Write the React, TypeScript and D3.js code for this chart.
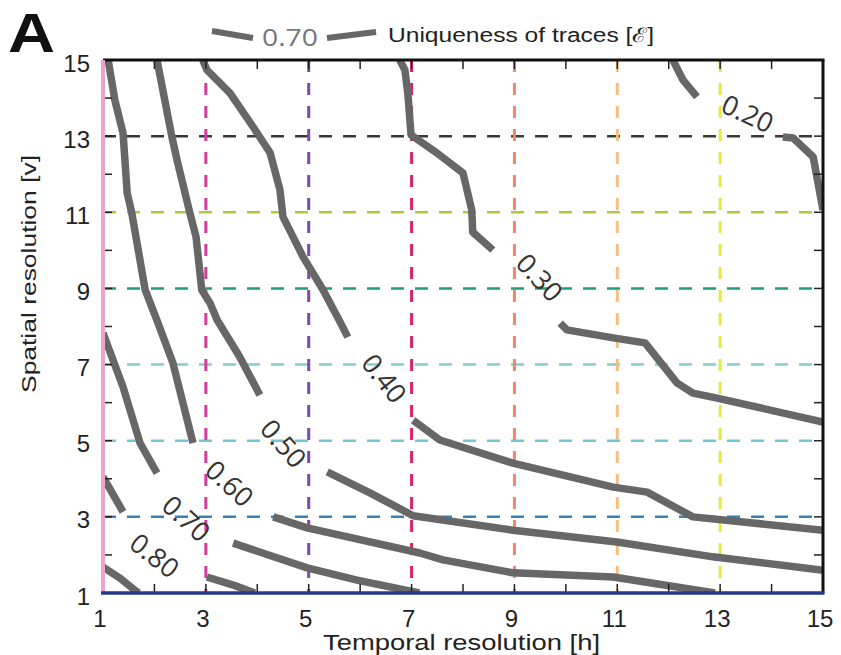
import React from 'react';
import * as d3 from 'd3';

type P = [number, number];

// ---- axes ----
const xTickValues = [1, 3, 5, 7, 9, 11, 13, 15];
const yTickValues = [1, 3, 5, 7, 9, 11, 13, 15];
const minorTickValues = d3.range(1, 16);

// ---- reference lines (dashed) ----
const verticalRefValues = [3, 5, 7, 9, 11, 13];
const horizontalRefValues = [3, 5, 7, 9, 11, 13];

// ---- contour levels, labels ----
const contourLevels = [0.9, 0.8, 0.7, 0.6, 0.5, 0.4, 0.3, 0.2];
const contourLabels = ['', '0.80', '0.70', '0.60', '0.50', '0.40', '0.30', '0.20'];

// contour segments (temporal, spatial) – each level broken where its label sits
const c090: P[][] = [[[1, 1.68], [1.33, 1.39], [1.66, 1.03], [1.7, 1]]];
const c080: P[][] = [
  [[1, 4.05], [1.39, 3.13]],
  [[3.02, 1.42], [3.55, 1.2], [3.95, 1]],
];
const c070: P[][] = [
  [[1, 7.83], [1.39, 6.41], [1.72, 4.94], [2.05, 4.15]],
  [[3.53, 2.31], [4.97, 1.66], [5.94, 1.34], [7.15, 1]],
];
const c060: P[][] = [
  [[1.1, 15], [1.23, 13.95], [1.39, 13.08], [1.47, 11.51], [1.56, 10.98], [1.82, 8.96], [2.07, 8.09], [2.36, 7.04], [2.75, 4.94]],
  [[4.31, 3.0], [4.97, 2.71], [7.16, 2.05], [7.61, 1.87], [8.97, 1.53], [10.92, 1.42], [12.9, 1.0]],
];
const c050: P[][] = [
  [[2.05, 15], [2.34, 12.98], [2.44, 12.37], [2.69, 10.98], [2.81, 10.35], [2.92, 8.96], [3.08, 8.62], [3.22, 8.17], [3.66, 7.2], [4.05, 6.2]],
  [[5.36, 4.18], [6.19, 3.63], [7.03, 3.03], [8.97, 2.65], [10.99, 2.34], [12.86, 1.95], [15, 1.6]],
];
const c040: P[][] = [
  [[2.94, 15], [3.02, 14.74], [3.47, 14.13], [3.92, 13.24], [4.25, 12.56], [4.44, 11.59], [4.5, 10.88], [4.89, 9.83], [5.28, 8.96], [5.61, 8.12], [5.76, 7.72]],
  [[7.03, 5.54], [7.55, 5.02], [8.97, 4.41], [10.92, 3.78], [11.58, 3.65], [12.47, 3.0], [15, 2.65]],
];
const c030: P[][] = [
  [[6.77, 15], [6.87, 14.74], [6.93, 14.08], [6.99, 13.03], [7.49, 12.56], [8.0, 12.03], [8.17, 11.06], [8.19, 10.48], [8.58, 10.01]],
  [[9.89, 8.09], [10.02, 7.91], [10.92, 7.7], [11.54, 7.57], [12.16, 6.52], [12.47, 6.25], [12.94, 6.12], [15, 5.49]],
];
const c020: P[][] = [
  [[12.08, 15], [12.28, 14.47], [12.55, 14.03]],
  [[14.22, 12.98], [14.42, 12.95], [14.81, 12.45], [15, 11.06]],
];
const contourSegments = [c090, c080, c070, c060, c050, c040, c030, c020];

// where each inline label sits (temporal, spatial)
const labelPoints: (P | null)[] = [
  null, [2.01, 2.0], [2.63, 2.97], [3.47, 3.89], [4.52, 4.94], [6.48, 6.65], [9.5, 9.3], [13.54, 13.61],
];

const legendLevel = '0.70';
const legendTitle = 'Uniqueness of traces [ℰ]';
const xTitle = 'Temporal resolution [h]';
const yTitle = 'Spatial resolution [v]';
const panelLetter = 'A';

// ---- styles ----
const vRefColors = ['#d63a9c', '#7b4aa8', '#d8246a', '#f2866a', '#f5bf82', '#e4ea3c'];
const hRefColors = ['#3a7fb5', '#72c6d8', '#86ccd4', '#1f9f7e', '#b4c63e', '#3a3a30'];
const contourColor = '#676767';
const FONT = '"Liberation Sans", Arial, Helvetica, sans-serif';
const LABEL_FONT = '"Open Sans", "DejaVu Sans", sans-serif';

const W = 841;
const H = 655;
const L = 103, R = 823, T = 60, B = 593;

export default function App() {
  const x = d3.scaleLinear().domain([1, 15]).range([L, R]);
  const y = d3.scaleLinear().domain([1, 15]).range([B, T]);
  const line = d3.line<P>().x((d) => x(d[0])).y((d) => y(d[1]));

  return (
    <svg width={W} height={H} style={{ position: 'absolute', left: 0, top: 0, background: '#fff' }}>
      <defs>
        <clipPath id="plotClip">
          <rect x={L} y={T} width={R - L} height={B - T} />
        </clipPath>
      </defs>
      <rect x={0} y={0} width={W} height={H} fill="#fff" />

      {/* dashed reference lines */}
      <g clipPath="url(#plotClip)">
        {horizontalRefValues.map((v, i) => (
          <line key={'h' + v} x1={x(1)} x2={x(15)} y1={y(v)} y2={y(v)}
            stroke={hRefColors[i]} strokeWidth={2.5} strokeDasharray="13 11" />
        ))}
        {verticalRefValues.map((v, i) => (
          <line key={'v' + v} x1={x(v)} x2={x(v)} y1={y(15)} y2={y(1)}
            stroke={vRefColors[i]} strokeWidth={3} strokeDasharray="12 11" />
        ))}
      </g>

      {/* contours */}
      <g clipPath="url(#plotClip)">
        {contourSegments.map((segs, ci) =>
          segs.map((s, si) => (
            <path key={ci + '-' + si} d={line(s) || ''} fill="none" stroke={contourColor}
              strokeWidth={7.5} strokeLinejoin="round" strokeLinecap="butt" />
          ))
        )}
      </g>

      {/* contour labels */}
      {contourSegments.map((segs, ci) => {
        const lp = labelPoints[ci];
        if (!lp || segs.length < 2) return null;
        const a = segs[0][segs[0].length - 1];
        const b = segs[1][0];
        const ang = (Math.atan2(y(b[1]) - y(a[1]), x(b[0]) - x(a[0])) * 180) / Math.PI;
        return (
          <text key={'lab' + ci} transform={`translate(${x(lp[0])},${y(lp[1])}) rotate(${ang})`}
            textAnchor="middle" dominantBaseline="central" fontFamily={LABEL_FONT}
            fontSize={27} fill="#333">
            {contourLabels[ci]}
          </text>
        );
      })}

      {/* ticks */}
      <g stroke="#222" strokeWidth={1.5}>
        {minorTickValues.map((v) => (
          <g key={'t' + v}>
            <line x1={x(v)} x2={x(v)} y1={B} y2={B - 9} />
            <line x1={x(v)} x2={x(v)} y1={T} y2={T + 9} />
            <line x1={L} x2={L + 9} y1={y(v)} y2={y(v)} />
            <line x1={R} x2={R - 9} y1={y(v)} y2={y(v)} />
          </g>
        ))}
      </g>

      {/* frame */}
      <line x1={L} x2={R + 1.5} y1={T} y2={T} stroke="#111" strokeWidth={3} />
      <line x1={R} x2={R} y1={T} y2={B} stroke="#111" strokeWidth={3} />
      <line x1={L} x2={L} y1={T} y2={B} stroke="#e8a6d0" strokeWidth={4} />
      <line x1={L - 2} x2={R + 1.5} y1={B} y2={B} stroke="#26388c" strokeWidth={3.5} />

      {/* tick labels */}
      {xTickValues.map((v) => (
        <text key={'xl' + v} x={x(v) - 3} y={627} textAnchor="middle" fontFamily={FONT} fontSize={24} fill="#222">
          {v}
        </text>
      ))}
      {yTickValues.map((v) => (
        <text key={'yl' + v} x={90} y={y(v) + 3} textAnchor="end" dominantBaseline="central" fontFamily={FONT} fontSize={24} fill="#222">
          {v}
        </text>
      ))}

      {/* axis titles */}
      <text x={323} y={650} fontFamily={FONT} fontSize={22} fill="#222" textLength={277} lengthAdjust="spacingAndGlyphs">
        {xTitle}
      </text>
      <text transform={`translate(36,274) rotate(-90)`} textAnchor="middle" fontFamily={FONT} fontSize={21} fill="#222"
        textLength={238} lengthAdjust="spacingAndGlyphs">
        {yTitle}
      </text>

      {/* panel letter */}
      <text x={8} y={52} fontFamily={FONT} fontWeight="bold" fontSize={56} fill="#111" textLength={47} lengthAdjust="spacingAndGlyphs">
        {panelLetter}
      </text>

      {/* legend */}
      <line x1={212} y1={31} x2={253} y2={38} stroke={contourColor} strokeWidth={6} />
      <text x={262} y={46} fontFamily={LABEL_FONT} fontSize={24} fill="#777" textLength={56} lengthAdjust="spacingAndGlyphs">
        {legendLevel}
      </text>
      <line x1={327} y1={38} x2={376} y2={32} stroke={contourColor} strokeWidth={6} />
      <text x={388} y={42} fontFamily={FONT} fontSize={20} fill="#222" textLength={266} lengthAdjust="spacingAndGlyphs">
        {legendTitle}
      </text>
    </svg>
  );
}
